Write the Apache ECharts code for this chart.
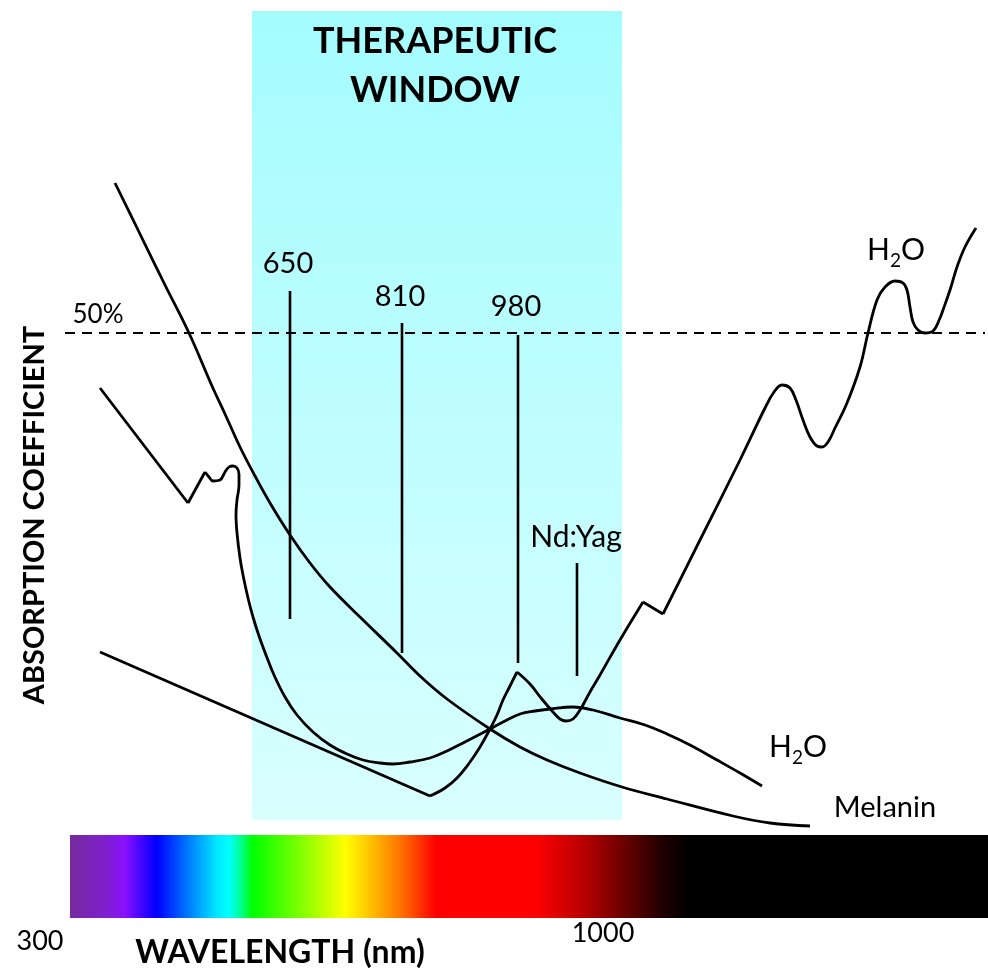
<!DOCTYPE html>
<html><head><meta charset="utf-8">
<script src="https://cdn.jsdelivr.net/npm/echarts@6/dist/echarts.min.js"></script>
<style>html,body{margin:0;padding:0;background:#fff}#c{width:988px;height:972px}</style>
</head><body><div id="c"></div>
<script>
// Schematic coordinates: x = position along the wavelength scale, y = relative absorption (50% level = 639)
const melanin = [[115,789],[140,738],[165,687],[189,639],[212,586],[225,558],[240,525],[255,496],[270,469],[290,437],[310,409],[330,385],[360,355],[397,319],[420,296],[447,273],[490,243],[520,225],[547,212],[580,199],[622,185],[667,173],[733,156],[770,149],[810,146]];
const hbCurve = [[100,584],[188,469],[205,500],[209,495],[213,491],[220,492],[225,500],[229,505],[233,506],[237,504],[239,498],[239,487],[237,472],[236,457],[237,439],[240,414],[243,397],[248,374],[253,355],[259,336],[266,317],[274,297],[285,275],[297,257],[313,240],[330,227],[347,218],[363,212],[380,209],[393,208],[410,210],[430,214],[447,221],[463,229],[490,243],[505,251],[520,258],[535,261],[550,263],[573,265],[593,262],[620,254],[645,247],[667,238],[690,227],[717,212],[740,199],[762,186]];
const hbCorners = [188,205];
const waterCurve = [[100,320],[430,176],[445,184],[457,194],[470,210],[480,225],[490,243],[497,257],[503,272],[510,286],[517,300],[530,288],[541,274],[553,260],[560,253],[566,251],[573,253],[580,262],[590,280],[600,297],[620,332],[643,370],[663,358],[700,432],[740,512],[765,564],[774,580],[782,587],[790,584],[796,572],[803,552],[810,535],[817,526],[822,525],[828,530],[835,544],[847,569],[860,605],[868,639],[877,672],[885,685],[895,691],[903,689],[907,682],[910,665],[913,650],[918,642],[925,639],[933,641],[940,654],[943,662],[950,682],[957,705],[965,725],[976,744]];
const waterCorners = [430,517,643,663];
// laser wavelength markers
const laserNames = ['650','810','980','Nd:Yag'];
const laserX = [290,402,518,577];
const laserTop = [681,649,637,409];
const laserBottom = [353,319,309,296];
const halfLevel = 639;
const halfRange = [65,985];
const windowX = [252,622];
const windowY = [152,961];
const spectrumX = [70,988];
const spectrumY = [54,137];
// annotation texts and anchors
const labelTexts = ['650','810','980','Nd:Yag','50%','Melanin','H2O_low','H2O_high','window','ylab','xlab','300','1000'];
const labelAnchors = [[288,708],[400,675],[516,665],[576,435],[98,657],[885,164],[798,225],[896,722],[435,906],[35,457],[280,19],[40,31],[603,39]];

const chart = echarts.init(document.getElementById('c'));
const FONT = 'Lato';
const spectrumStops = [[0,'#762c9c'],[0.04,'#7f1fcf'],[0.06,'#8a10ff'],[0.088,'#1800ff'],[0.095,'#0000ff'],[0.126,'#0070ff'],[0.16,'#00e8ff'],[0.173,'#00ffff'],[0.186,'#00ff90'],[0.199,'#00ff00'],[0.251,'#80ff00'],[0.30,'#ffff00'],[0.328,'#ffc000'],[0.361,'#ff7000'],[0.399,'#ff0000'],[0.505,'#ff0000'],[0.555,'#c00000'],[0.60,'#700000'],[0.645,'#200000'],[0.674,'#000000'],[1,'#000000']];

function splitAt(data, corners){
  const parts = []; let cur = [];
  data.forEach(p=>{ cur.push(p); if (corners.indexOf(p[0])>=0){ parts.push(cur); cur=[p]; } });
  if (cur.length>1) parts.push(cur);
  return parts;
}

const lineStyle = {color:'#000', width:2.8};
const series = [];
series.push({
  type:'line', name:'Melanin', data: melanin, symbol:'none', smooth:0.4, lineStyle, z:3, silent:true,
  markArea:{silent:true, z:1, data:[
    [{xAxis:windowX[0], yAxis:windowY[0], itemStyle:{color:{type:'linear',x:0,y:0,x2:0,y2:1,colorStops:[{offset:0,color:'#a4fcfe'},{offset:1,color:'#d9ffff'}]}}},{xAxis:windowX[1], yAxis:windowY[1]}],
    [{xAxis:spectrumX[0], yAxis:spectrumY[0], itemStyle:{color:{type:'linear',x:0,y:0,x2:1,y2:0,colorStops:spectrumStops.map(s=>({offset:s[0],color:s[1]}))}}},{xAxis:spectrumX[1], yAxis:spectrumY[1]}]
  ]}
});
splitAt(hbCurve, hbCorners).forEach((seg,i)=>{
  series.push({type:'line', name:'H2O low '+i, data: seg, symbol:'none', smooth: seg.length>2?0.4:false, lineStyle, z:3, silent:true});
});
splitAt(waterCurve, waterCorners).forEach((seg,i)=>{
  series.push({type:'line', name:'H2O '+i, data: seg, symbol:'none', smooth: seg.length>2?0.4:false, lineStyle, z:3, silent:true});
});
laserNames.forEach((n,i)=>{
  series.push({type:'line', name:n, data:[[laserX[i],laserTop[i]],[laserX[i],laserBottom[i]]], symbol:'none', lineStyle:{color:'#000',width:2.6}, z:3, silent:true});
});
series.push({type:'line', name:'50%', data:[[halfRange[0],halfLevel],[halfRange[1],halfLevel]], symbol:'none', lineStyle:{color:'#000',width:2,type:[10,7]}, z:3, silent:true});

const sub = {s:{fontSize:19,fontFamily:FONT,color:'#000',padding:[22,0,0,0]}};
const styles = {
  '650':{fontSize:29}, '810':{fontSize:29}, '980':{fontSize:29}, 'Nd:Yag':{fontSize:30},
  '50%':{fontSize:26}, 'Melanin':{fontSize:29},
  'H2O_low':{fontSize:30, formatter:'H{s|2}O', rich:sub},
  'H2O_high':{fontSize:30, formatter:'H{s|2}O', rich:sub},
  'window':{fontSize:36, fontWeight:'bold', lineHeight:49, formatter:'THERAPEUTIC\nWINDOW'},
  'ylab':{fontSize:29, fontWeight:'bold', rotate:90, formatter:'ABSORPTION COEFFICIENT'},
  'xlab':{fontSize:32, fontWeight:'bold', formatter:'WAVELENGTH (nm)'},
  '300':{fontSize:27}, '1000':{fontSize:27}
};
series.push({
  type:'scatter', name:'labels', symbolSize:1, itemStyle:{color:'rgba(0,0,0,0)', opacity:1}, z:5, silent:true, clip:false,
  data: labelTexts.map((t,i)=>{
    const st = styles[t];
    const lab = Object.assign({show:true, position:'inside', fontFamily:FONT, formatter:t}, st, {color:'#000', opacity:1, textBorderWidth:0});
    return {name:t, value:labelAnchors[i], label:lab};
  })
});

chart.setOption({
  animation:false,
  backgroundColor:'#fff',
  grid:{left:0,right:0,top:0,bottom:0},
  xAxis:{type:'value',min:0,max:988,show:false},
  yAxis:{type:'value',min:0,max:972,show:false},
  series
});
</script></body></html>
